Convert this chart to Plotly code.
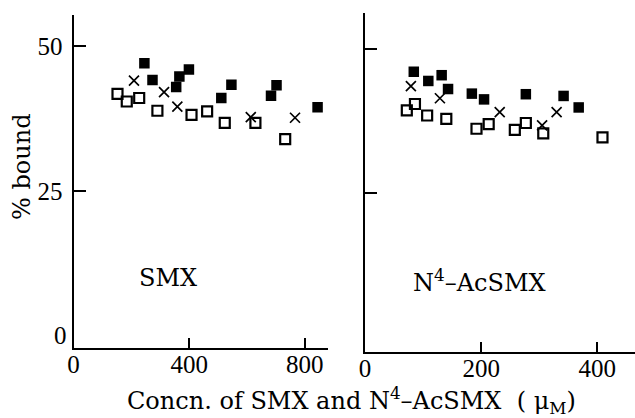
import plotly.graph_objects as go

# ---- data ----
# Left panel: SMX
smx_open_x = [152, 184, 227, 290, 408, 462, 523, 629, 732]
smx_open_y = [41.7, 40.4, 41.0, 38.8, 38.1, 38.7, 36.7, 36.7, 33.9]
smx_cross_x = [209, 313, 359, 613, 766]
smx_cross_y = [44.0, 42.0, 39.5, 37.7, 37.6]
smx_fill_x = [245, 273, 355, 366, 399, 511, 546, 683, 702, 844]
smx_fill_y = [47.0, 44.1, 42.9, 44.7, 45.9, 41.0, 43.3, 41.4, 43.2, 39.4]

# Right panel: N4-AcSMX
ac_open_x = [72, 86, 107, 140, 192, 213, 258, 277, 307, 409]
ac_open_y = [39.3, 40.4, 38.4, 37.8, 36.1, 36.9, 35.9, 37.1, 35.3, 34.6]
ac_cross_x = [79, 129, 232, 305, 330]
ac_cross_y = [43.5, 41.4, 39.0, 36.7, 39.0]
ac_fill_x = [84, 109, 132, 143, 184, 205, 277, 342, 368]
ac_fill_y = [46.0, 44.4, 45.4, 43.0, 42.2, 41.2, 42.1, 41.8, 39.8]

left_xticks = [0, 400, 800]
right_xticks = [0, 200, 400]
y_ticks = [25, 50]
y_ticklabels = ["25", "50"]
panel_labels = ["SMX", "N<sup>4</sup>\u2013AcSMX"]

NUM_FONT = dict(family="Liberation Serif", size=25, color="black")
TXT_FONT = dict(family="DejaVu Serif", size=24, color="black")

open_m = dict(symbol="square-open", size=10, color="black", line=dict(width=2.2, color="black"))
cross_m = dict(symbol="x-thin-open", size=10, color="black", line=dict(width=1.7, color="black"))
fill_m = dict(symbol="square", size=10.5, color="black", line=dict(width=0))

fig = go.Figure()
for xs, ys, m in [(smx_open_x, smx_open_y, open_m), (smx_cross_x, smx_cross_y, cross_m),
                  (smx_fill_x, smx_fill_y, fill_m)]:
    fig.add_trace(go.Scatter(x=xs, y=ys, mode="markers", marker=m, xaxis="x", yaxis="y",
                             showlegend=False, hoverinfo="skip"))
for xs, ys, m in [(ac_open_x, ac_open_y, open_m), (ac_cross_x, ac_cross_y, cross_m),
                  (ac_fill_x, ac_fill_y, fill_m)]:
    fig.add_trace(go.Scatter(x=xs, y=ys, mode="markers", marker=m, xaxis="x2", yaxis="y2",
                             showlegend=False, hoverinfo="skip"))

common_axis = dict(showline=True, linewidth=2, linecolor="black", showgrid=False, zeroline=False,
                   ticks="inside", tickcolor="black", tickwidth=1.5, mirror=False, tickfont=NUM_FONT)

fig.update_layout(
    width=635, height=418,
    margin=dict(l=73, r=0, t=13, b=66),
    paper_bgcolor="white", plot_bgcolor="white",
    xaxis=dict(common_axis, domain=[0.001, 0.4537], range=[0, 880], anchor="y",
               tickvals=left_xticks, ticklen=10, ticklabelstandoff=-7),
    xaxis2=dict(common_axis, domain=[0.5196, 1.0], range=[0, 465], anchor="y2",
                tickvals=right_xticks, ticklen=10, ticklabelstandoff=-7),
    yaxis=dict(common_axis, domain=[0.012, 0.994], range=[-2.07, 55.3], anchor="x",
               tickvals=y_ticks, ticktext=y_ticklabels, ticklen=12, ticklabelstandoff=4),
    yaxis2=dict(common_axis, domain=[0.0, 1.0], range=[-2.66, 56.2], anchor="x2",
                tickvals=y_ticks, showticklabels=False, ticklen=12),
)

fig.add_annotation(x=0, y=0, xref="x", yref="y", text="0", showarrow=False,
                   xanchor="right", yanchor="middle", xshift=-5, font=NUM_FONT)
fig.add_annotation(x=327, y=9.9, xref="x", yref="y", text=panel_labels[0], showarrow=False,
                   font=TXT_FONT)
fig.add_annotation(x=198, y=9.7, xref="x2", yref="y2", text=panel_labels[1], showarrow=False,
                   font=TXT_FONT)
fig.add_annotation(x=0.4947, y=-0.1445, xref="paper", yref="paper",
                   text="Concn.\u00a0of\u00a0SMX\u00a0and\u00a0N<sup>4</sup>\u2013AcSMX\u00a0\u00a0(\u00a0\u03bc<sub>M</sub>)",
                   showarrow=False, xanchor="center", yanchor="middle", font=TXT_FONT)
fig.add_annotation(x=-0.0907, y=0.546, xref="paper", yref="paper", text="%\u00a0bound",
                   textangle=-90, showarrow=False, xanchor="center", yanchor="middle", font=TXT_FONT)

fig.write_html("out.html")
